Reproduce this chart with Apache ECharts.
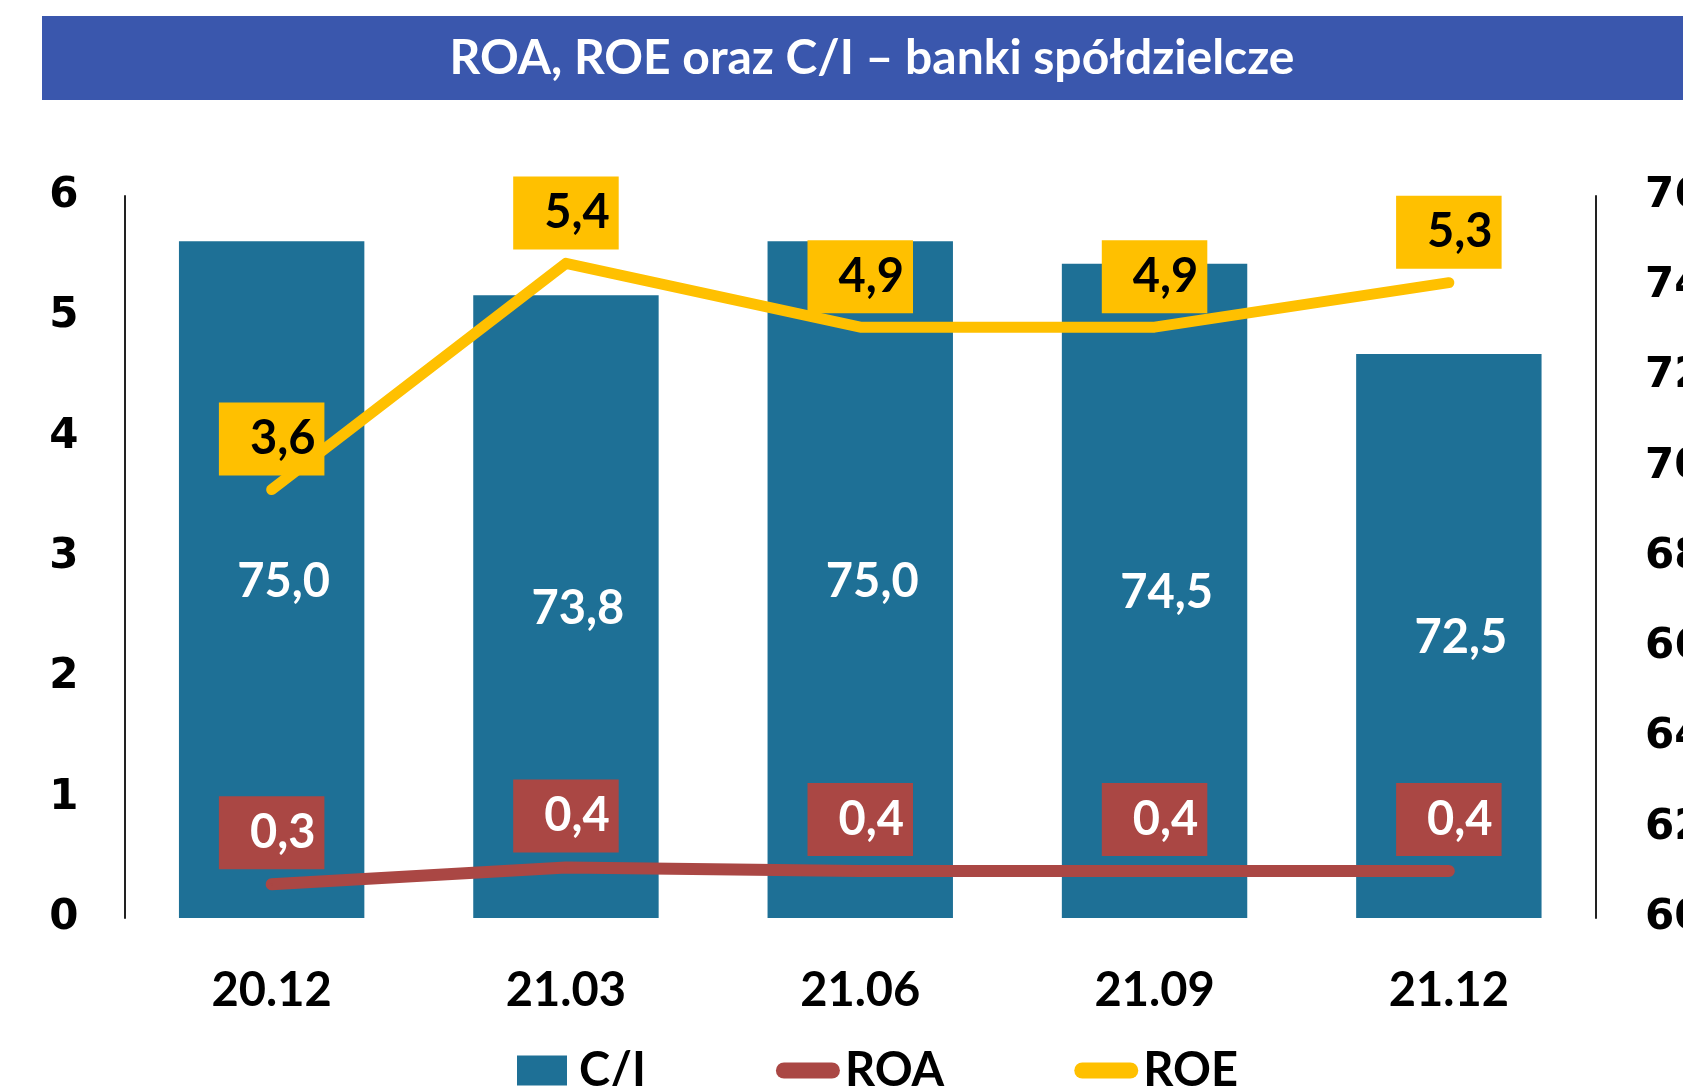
<!DOCTYPE html>
<html>
<head>
<meta charset="utf-8">
<script src="https://cdn.jsdelivr.net/npm/echarts@6/dist/echarts.min.js"></script>
<style>
  html, body { margin: 0; padding: 0; background: #fff; }
  #chart { width: 1683px; height: 1086px; }
</style>
</head>
<body>
<div id="chart"></div>
<script>
var categories = ['20.12', '21.03', '21.06', '21.09', '21.12'];
var ciValues = [75.0, 73.8, 75.0, 74.5, 72.5];
var roaValues = [0.28, 0.42, 0.39, 0.39, 0.39];
var roeValues = [3.56, 5.44, 4.91, 4.91, 5.28];
var leftTicks = { min: 0, max: 6, interval: 1 };
var rightTicks = { min: 60, max: 76, interval: 2 };

var font = 'Lato';
var fmt = function (p) {
  return p.value.toFixed(1).replace('.', ',');
};

var myChart = echarts.init(document.getElementById('chart'));

var option = {
  backgroundColor: '#ffffff',
  animation: false,
  graphic: [{
    type: 'rect',
    left: 42,
    top: 16,
    shape: { width: 1641, height: 84 },
    style: { fill: '#3A57AD' },
    z: 0
  }],
  title: {
    text: 'ROA, ROE oraz C/I \u2013 banki sp\u00f3\u0142dzielcze',
    left: 872,
    top: 35,
    padding: 0,
    textAlign: 'center',
    textStyle: {
      color: '#fff',
      fontFamily: font,
      fontWeight: 'bold',
      fontSize: 48
    },
    z: 5
  },
  grid: {
    left: 124.5,
    right: 87,
    top: 196,
    bottom: 168,
    containLabel: false,
    outerBoundsMode: 'none'
  },
  legend: {
    left: 512,
    top: 1042,
    itemWidth: 64,
    itemHeight: 30,
    itemGap: 130,
    textStyle: {
      color: '#000',
      fontFamily: font,
      fontWeight: 'bold',
      fontSize: 47
    },
    data: [
      { name: 'C/I', icon: 'path://M0,0H50V30H0Z' },
      { name: 'ROA', icon: 'path://M8,0H56A8,8,0,0,1,56,16H8A8,8,0,0,1,8,0Z' },
      { name: 'ROE', icon: 'path://M8,0H56A8,8,0,0,1,56,16H8A8,8,0,0,1,8,0Z' }
    ]
  },
  xAxis: [{
    type: 'category',
    data: categories,
    axisLine: { show: false },
    axisTick: { show: false },
    splitLine: { show: false },
    axisLabel: {
      margin: 49,
      color: '#000',
      fontFamily: font,
      fontWeight: 'bold',
      fontSize: 47
    }
  }],
  yAxis: [{
    type: 'value',
    min: leftTicks.min,
    max: leftTicks.max,
    interval: leftTicks.interval,
    splitLine: { show: false },
    axisTick: { show: false },
    axisLine: { show: true, lineStyle: { color: '#222', width: 2 } },
    axisLabel: {
      margin: 46,
      color: '#000',
      fontFamily: 'DejaVu Sans',
      fontWeight: 'bold',
      fontSize: 42,
      padding: [8, 0, 0, 0]
    }
  }, {
    type: 'value',
    position: 'right',
    min: rightTicks.min,
    max: rightTicks.max,
    interval: rightTicks.interval,
    splitLine: { show: false },
    axisTick: { show: false },
    axisLine: { show: true, lineStyle: { color: '#222', width: 2 } },
    axisLabel: {
      margin: 49,
      color: '#000',
      fontFamily: 'DejaVu Sans',
      fontWeight: 'bold',
      fontSize: 42,
      padding: [8, 0, 0, 0]
    }
  }],
  series: [{
    name: 'C/I',
    type: 'bar',
    yAxisIndex: 1,
    barWidth: '63%',
    itemStyle: { color: '#1E7096' },
    label: {
      show: true,
      position: 'inside',
      offset: [12, 2],
      color: '#fff',
      fontFamily: font,
      fontWeight: 'bold',
      fontSize: 47,
      formatter: fmt
    },
    data: ciValues,
    z: 1
  }, {
    name: 'ROA',
    type: 'line',
    yAxisIndex: 0,
    symbol: 'circle',
    symbolSize: 2,
    itemStyle: { color: '#AA4744' },
    lineStyle: { color: '#AA4744', width: 12, cap: 'round', join: 'round' },
    label: {
      show: true,
      position: 'top',
      distance: 14,
      color: '#fff',
      fontFamily: font,
      fontWeight: 'bold',
      fontSize: 47,
      lineHeight: 55,
      backgroundColor: '#AA4744',
      padding: [9, 9, 9, 31],
      formatter: fmt
    },
    data: roaValues,
    z: 3
  }, {
    name: 'ROE',
    type: 'line',
    yAxisIndex: 0,
    symbol: 'circle',
    symbolSize: 2,
    itemStyle: { color: '#FFC000' },
    lineStyle: { color: '#FFC000', width: 11, cap: 'round', join: 'round' },
    label: {
      show: true,
      position: 'top',
      distance: 13,
      color: '#000',
      fontFamily: font,
      fontWeight: 'bold',
      fontSize: 47,
      lineHeight: 55,
      backgroundColor: '#FFC000',
      padding: [9, 9, 9, 31],
      formatter: fmt
    },
    data: roeValues,
    z: 4
  }]
};

myChart.setOption(option);
</script>
</body>
</html>
